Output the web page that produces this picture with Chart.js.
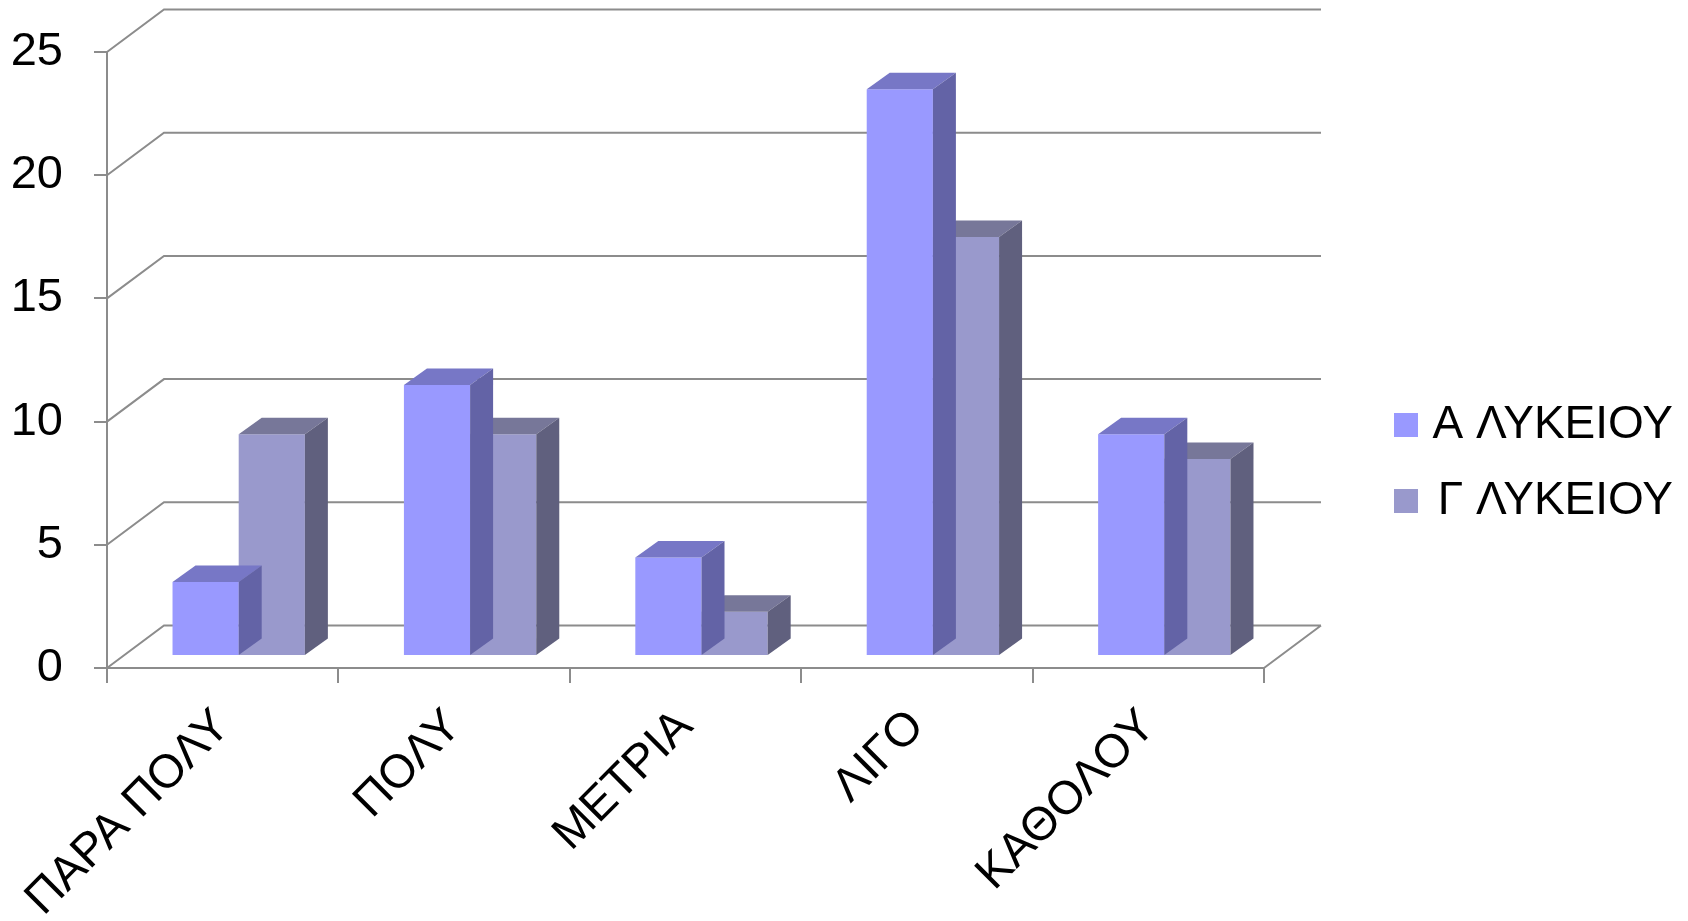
<!DOCTYPE html>
<html>
<head>
<meta charset="utf-8">
<script src="https://cdn.jsdelivr.net/npm/chart.js@4/dist/chart.umd.min.js"></script>
<style>
html,body{margin:0;padding:0;background:#ffffff;overflow:hidden;}
#wrap{width:1688px;height:921px;position:relative;}
</style>
</head>
<body>
<div id="wrap"><canvas id="c" width="1688" height="921"></canvas></div>
<script>
// ---- data ----
const categories = ['ΠΑΡΑ ΠΟΛΥ', 'ΠΟΛΥ', 'ΜΕΤΡΙΑ', 'ΛΙΓΟ', 'ΚΑΘΟΛΟΥ'];
const seriesNames = ['Α ΛΥΚΕΙΟΥ', 'Γ ΛΥΚΕΙΟΥ'];
const aLykeiou = [3, 11, 4, 23, 9];
const gLykeiou = [9, 9, 1.8, 17, 8];
const yTicks = [0, 5, 10, 15, 20, 25];

// ---- layout / style ----
const W = 1688, H = 921;
const AREA = {left: 107, top: 52, right: 1264, bottom: 668};
const WALL = {dx: 57, dy: -42.5};
const BAR_SHIFT = {dx: 16, dy: -12};
const BAR_DEPTH = {dx: 23, dy: -16.5};
const GRID_COLOR = '#8c8c8c';
const faceColors = [
  {front: '#9999FF', top: '#7777C6', side: '#6363A6'},
  {front: '#9999CC', top: '#777799', side: '#60607E'}
];
const LEGEND_BOX_X = 1394, LEGEND_TEXT_RIGHT = 1673, LEGEND_TOP = 372;
const FONT = "'Liberation Sans', Arial, sans-serif";

Chart.defaults.font.family = FONT;
Chart.defaults.color = '#000000';

function poly(ctx, pts) {
  ctx.beginPath();
  ctx.moveTo(pts[0][0], pts[0][1]);
  for (let i = 1; i < pts.length; i++) ctx.lineTo(pts[i][0], pts[i][1]);
  ctx.closePath();
  ctx.fill();
}

const wall3d = {
  id: 'wall3d',
  afterLayout(chart) {
    const lg = chart.legend;
    if (!lg) return;
    const pad = lg.options.labels.padding;
    lg.left = LEGEND_BOX_X - pad;
    lg.right = LEGEND_TEXT_RIGHT;
    lg.width = lg.right - lg.left;
    lg.top = LEGEND_TOP;
    lg.bottom = H;
    lg.height = H - LEGEND_TOP;
  },
  beforeDatasetsDraw(chart) {
    const {ctx, chartArea: a, scales: {y}} = chart;
    ctx.save();
    ctx.strokeStyle = GRID_COLOR;
    ctx.lineWidth = 2;
    ctx.beginPath();
    yTicks.forEach(v => {
      const py = y.getPixelForValue(v);
      ctx.moveTo(a.left, py);
      ctx.lineTo(a.left + WALL.dx, py + WALL.dy);
      ctx.lineTo(a.right + WALL.dx, py + WALL.dy);
    });
    const p0 = y.getPixelForValue(0);
    ctx.moveTo(a.right, p0);
    ctx.lineTo(a.right + WALL.dx, p0 + WALL.dy);
    ctx.stroke();
    ctx.restore();
    ctx.save();
    ctx.translate(BAR_SHIFT.dx, BAR_SHIFT.dy);
  },
  afterDatasetDraw(chart, args) {
    const ctx = chart.ctx;
    const c = faceColors[args.index];
    const dx = BAR_DEPTH.dx, dy = BAR_DEPTH.dy;
    args.meta.data.forEach(el => {
      const {x, y, base, width} = el.getProps(['x', 'y', 'base', 'width'], true);
      const L = x - width / 2, R = x + width / 2;
      ctx.fillStyle = c.top;
      poly(ctx, [[L, y], [L + dx, y + dy], [R + dx, y + dy], [R, y]]);
      ctx.fillStyle = c.side;
      poly(ctx, [[R, y], [R + dx, y + dy], [R + dx, base + dy], [R, base]]);
    });
  },
  afterDatasetsDraw(chart) {
    chart.ctx.restore();
  }
};

const config = {
  type: 'bar',
  data: {
    labels: categories,
    datasets: [
      {label: seriesNames[0], data: aLykeiou, backgroundColor: faceColors[0].front, borderWidth: 0, clip: false},
      {label: seriesNames[1], data: gLykeiou, backgroundColor: faceColors[1].front, borderWidth: 0, clip: false}
    ]
  },
  options: {
    responsive: false,
    animation: false,
    devicePixelRatio: 1,
    layout: {padding: {left: 0, top: AREA.top, right: 40, bottom: 0}},
    datasets: {bar: {barPercentage: 1, categoryPercentage: 0.572}},
    plugins: {
      legend: {
        position: 'right',
        align: 'start',
        labels: {
          font: {size: 46, family: FONT},
          color: '#000000',
          boxWidth: 24,
          boxHeight: 24,
          padding: 30,
          textAlign: 'right'
        }
      },
      tooltip: {enabled: false},
      title: {display: false}
    },
    scales: {
      x: {
        grid: {display: true, drawOnChartArea: false, drawTicks: true, tickLength: 15, color: GRID_COLOR, lineWidth: 2, offset: true},
        border: {display: true, color: GRID_COLOR, width: 2},
        ticks: {font: {size: 47, family: FONT}, color: '#000000', padding: 16, minRotation: 45, maxRotation: 45, autoSkip: false},
        afterFit(scale) { scale.height = H - AREA.bottom; }
      },
      y: {
        min: 0, max: 25,
        grid: {display: true, drawOnChartArea: false, drawTicks: true, tickLength: 13, color: GRID_COLOR, lineWidth: 2},
        border: {display: true, color: GRID_COLOR, width: 2},
        ticks: {stepSize: 5, font: {size: 47, family: FONT}, color: '#000000', padding: 31},
        afterFit(scale) { scale.width = AREA.left; scale.paddingTop = 0; scale.paddingBottom = 0; }
      }
    }
  },
  plugins: [wall3d]
};

const chart = new Chart(document.getElementById('c').getContext('2d'), config);
for (let k = 0; k < 4; k++) {
  const a = chart.chartArea;
  const dr = a.right - AREA.right, dt = a.top - AREA.top;
  if (Math.abs(dr) < 0.25 && Math.abs(dt) < 0.25) break;
  chart.options.layout.padding.right += dr;
  chart.options.layout.padding.top = Math.max(0, chart.options.layout.padding.top - dt);
  chart.update();
}
</script>
</body>
</html>
